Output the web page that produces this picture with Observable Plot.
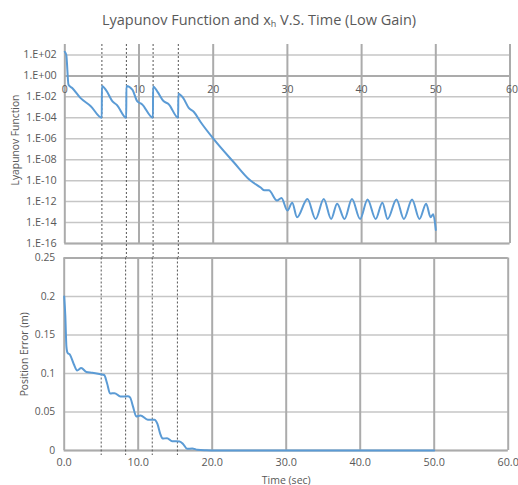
<!DOCTYPE html>
<html>
<head>
<meta charset="utf-8">
<script src="https://cdn.jsdelivr.net/npm/d3@7"></script>
<script src="https://cdn.jsdelivr.net/npm/@observablehq/plot@0.6"></script>
<style>
  html, body { margin: 0; padding: 0; background: #fff; }
  #wrap { position: relative; width: 518px; height: 485px; overflow: hidden; font-family: "Open Sans", sans-serif; }
  #title { position: absolute; top: 10px; left: 0; width: 518px; text-align: center; font-size: 14.5px; color: #595959; }
  #title sub { font-size: 9px; vertical-align: -2px; line-height: 0; }
  #top, #bottom { position: absolute; left: 0; }
  #top { top: 30px; }
  #bottom { top: 250px; }
</style>
</head>
<body>
<div id="wrap">
  <div id="title">Lyapunov Function and x<sub>h</sub> V.S. Time (Low Gain)</div>
  <div id="top"></div>
  <div id="bottom"></div>
</div>
<script>
// ---- data ----
const eventTimes = [5.0, 8.3, 11.9, 15.3];
const xTicks = [0, 10, 20, 30, 40, 50, 60];
const lyapTicks = [1e2, 1e0, 1e-2, 1e-4, 1e-6, 1e-8, 1e-10, 1e-12, 1e-14, 1e-16];
const posTicks = [0, 0.05, 0.1, 0.15, 0.2, 0.25];

const lyapTime = [0, 0.2, 0.5, 1.0, 2.1, 3.5, 4.98,
  5.0, 5.6, 6.4, 7.05, 8.28,
  8.3, 9.1, 9.75, 10.4, 11.88,
  11.9, 12.5, 13.3, 14.0, 15.28,
  15.3, 15.95, 16.7, 17.4, 18.3, 20.1, 22.8, 24.9, 26.4, 26.9, 27.5,
  28.6, 29.2, 30.0, 30.65, 31.3, 32.7, 33.8, 34.9, 35.9, 36.7, 37.7, 38.7, 39.8,
  40.8, 41.9, 42.8, 43.5, 44.7, 45.7, 46.8, 47.8, 48.7, 49.3, 49.65, 50.0];
const lyapValue = [2e2, 1e2, 1.4e-1, 7e-2, 8e-3, 1.3e-3, 1e-4,
  1.1e-1, 4e-2, 4e-3, 1.6e-3, 1e-4,
  1.1e-1, 5e-2, 4e-3, 2e-3, 1e-4,
  1e-1, 3e-2, 4e-3, 2e-3, 1e-4,
  2e-2, 8e-3, 9e-4, 3.6e-4, 4e-5, 8.7e-7, 5.4e-9, 1.2e-10, 2.2e-11, 1.2e-11, 1.2e-11,
  1.26e-12, 2.2e-12, 1.4e-13, 7.9e-13, 3.2e-14, 1.8e-12, 2.2e-14, 1.8e-12, 2.2e-14, 6.3e-13, 2.2e-14, 1.8e-12, 2.2e-14,
  1.6e-12, 2.2e-14, 7.9e-13, 2.2e-14, 1.6e-12, 2.2e-14, 1.6e-12, 2.2e-14, 6.3e-13, 3.2e-14, 6.3e-14, 2e-15];

const posTime = [0, 0.15, 0.3, 0.45, 0.8, 1.3, 1.75, 2.3, 3.0, 3.8, 4.9, 5.4, 5.8, 6.2, 6.8, 7.6,
  8.6, 8.9, 9.3, 9.75, 10.3, 11.3, 12.2, 12.6, 13.0, 13.3, 13.9, 14.6, 15.6, 16.1, 16.6, 17.3,
  18.0, 19.2, 20.5, 50.0];
const posValue = [0.2, 0.175, 0.135, 0.127, 0.124, 0.112, 0.104, 0.107, 0.102, 0.101, 0.099, 0.098, 0.087, 0.074, 0.0745, 0.070,
  0.0705, 0.069, 0.057, 0.044, 0.0455, 0.040, 0.040, 0.0345, 0.021, 0.0155, 0.016, 0.012, 0.0118, 0.008, 0.0022, 0.0026,
  0.001, 0.0003, 0, 0];

const lyapTitle = "Lyapunov Function";
const posTitle = "Position Error (m)";
const timeTitle = "Time (sec)";

// ---- tables ----
const lyap = lyapTime.map((t, i) => ({t, v: lyapValue[i]}));
const pos = posTime.map((t, i) => ({t, v: posValue[i]}));

const FONT = "'Open Sans', sans-serif";
const TXT = "#595959";
const GRID_V = "#ababab";
const GRID_H = "#c6c6c6";
const BLUE = "#5b9bd5";

function sciFmt(d) {
  const e = Math.round(Math.log10(d));
  return "1.E" + (e >= 0 ? "+" : "-") + String(Math.abs(e)).padStart(2, "0");
}

const topPlot = Plot.plot({
  width: 518, height: 225,
  marginTop: 14, marginBottom: 12, marginLeft: 64.3, marginRight: 8.5,
  style: {background: "transparent", overflow: "visible", fontFamily: FONT, fontSize: "10px", color: TXT},
  x: {domain: [0, 60], axis: null},
  y: {type: "log", domain: [1e-16, 1e3], axis: null},
  marks: [
    Plot.ruleY(lyapTicks, {stroke: GRID_H, strokeWidth: 1.5}),
    Plot.ruleX(xTicks, {stroke: GRID_V, strokeWidth: 2}),
    Plot.ruleY([1e-16, 1], {stroke: GRID_V, strokeWidth: 2}),
    Plot.ruleX(eventTimes, {stroke: "#555", strokeWidth: 1, strokeDasharray: "2,2", insetBottom: -15}),
    Plot.axisY({ticks: lyapTicks, tickFormat: sciFmt, tickSize: 0, tickPadding: 8, label: null, fill: TXT, fontSize: 10.8}),
    Plot.text(xTicks.slice(0, -1), {x: d => d, y: 1, dy: 14, text: d => String(d), fill: TXT, fontSize: 10.5}),
    Plot.text(xTicks.slice(-1), {x: d => d, y: 1, dy: 14, dx: 2, text: d => String(d), fill: TXT, fontSize: 10.5}),
    Plot.text([lyapTitle], {frameAnchor: "left", textAnchor: "middle", text: d => d, rotate: -90, dx: -49, dy: -4, fill: TXT, fontSize: 10.3}),
    Plot.line(lyap, {x: "t", y: "v", stroke: BLUE, strokeWidth: 2, curve: "monotone-x"})
  ]
});
document.getElementById("top").appendChild(topPlot);

const bottomPlot = Plot.plot({
  width: 518, height: 235,
  marginTop: 7.5, marginBottom: 35, marginLeft: 63.7, marginRight: 10.3,
  style: {background: "transparent", overflow: "visible", fontFamily: FONT, fontSize: "10px", color: TXT},
  x: {domain: [0, 60], axis: null},
  y: {domain: [0, 0.25], axis: null},
  marks: [
    Plot.ruleY(posTicks, {stroke: GRID_H, strokeWidth: 1.5}),
    Plot.ruleY([0.25, 0], {stroke: GRID_V, strokeWidth: 2}),
    Plot.ruleX(xTicks, {stroke: GRID_V, strokeWidth: 2}),
    Plot.ruleX(eventTimes, {stroke: "#555", strokeWidth: 1, strokeDasharray: "2,2", insetBottom: -5}),
    Plot.axisY({ticks: posTicks, tickFormat: d => d === 0 ? "0" : String(d), tickSize: 0, tickPadding: 9, label: null, fill: TXT, fontSize: 10.3}),
    Plot.axisX({ticks: xTicks, tickFormat: d => d.toFixed(1), tickSize: 0, tickPadding: 8, label: null, fill: TXT, fontSize: 10.8}),
    Plot.text([posTitle], {frameAnchor: "left", textAnchor: "middle", text: d => d, rotate: -90, dx: -39, fill: TXT, fontSize: 10.3}),
    Plot.text([timeTitle], {frameAnchor: "bottom", text: d => d, dy: 33, fill: TXT, fontSize: 10.5}),
    Plot.line(pos, {x: "t", y: "v", stroke: BLUE, strokeWidth: 2, curve: "monotone-x"})
  ]
});
document.getElementById("bottom").appendChild(bottomPlot);
</script>
</body>
</html>
